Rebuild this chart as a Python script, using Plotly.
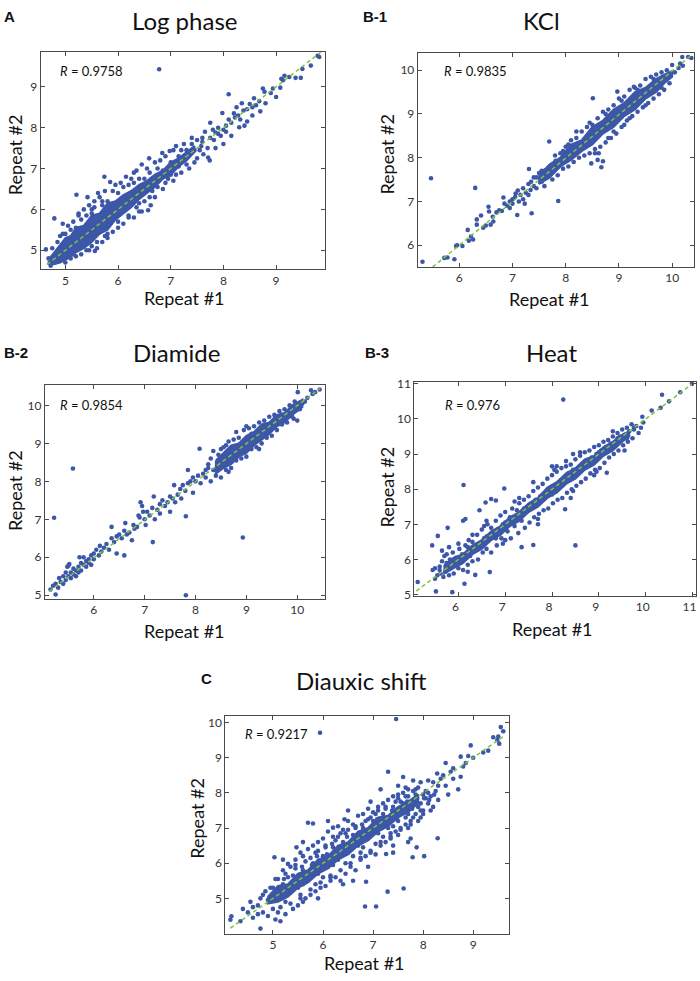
import plotly.graph_objects as go

W, H = 700, 981

# ---------------- DATA ----------------
titles = ["Log phase", "KCl", "Diamide", "Heat", "Diauxic shift"]
panel_tags = ["A", "B-1", "B-2", "B-3", "C"]
r_values = ["0.9758", "0.9835", "0.9854", "0.976", "0.9217"]

x_ticks = [[5, 6, 7, 8, 9], [6, 7, 8, 9, 10], [6, 7, 8, 9, 10], [6, 7, 8, 9, 10, 11], [5, 6, 7, 8, 9]]
y_ticks = [[5, 6, 7, 8, 9], [6, 7, 8, 9, 10], [5, 6, 7, 8, 9, 10], [5, 6, 7, 8, 9, 10, 11], [5, 6, 7, 8, 9, 10]]
x_ranges = [[4.53, 9.92], [5.22, 10.41], [5.04, 10.55], [5.06, 11.07], [4.05, 9.72]]
y_ranges = [[4.53, 9.85], [5.5, 10.39], [4.91, 10.53], [4.96, 11.05], [4.0, 10.18]]

# dashed fit line end points (x, y)
fit_lines = [
    [(4.65, 4.65), (9.85, 9.85)],
    [(5.5, 5.5), (10.38, 10.36)],
    [(5.12, 5.1), (10.45, 10.45)],
    [(5.1, 5.1), (11.05, 11.05)],
    [(4.15, 4.15), (9.6, 9.6)],
]

# dense core outlines (x, y)
log_core = [(4.7, 4.8), (4.85, 5.05), (5.0, 5.3), (5.1, 5.35), (5.2, 5.55), (5.35, 5.6), (5.5, 5.85),
            (5.65, 5.9), (5.8, 6.15), (5.95, 6.2), (6.1, 6.35), (6.25, 6.45), (6.4, 6.6), (6.55, 6.7),
            (6.7, 6.85), (6.85, 6.95), (7.0, 7.15), (7.15, 7.25), (7.3, 7.4), (7.45, 7.55),
            (7.45, 7.4), (7.3, 7.2), (7.15, 7.05), (7.0, 6.85), (6.85, 6.75), (6.7, 6.55), (6.55, 6.4),
            (6.4, 6.25), (6.25, 6.05), (6.1, 5.9), (5.95, 5.75), (5.8, 5.5), (5.65, 5.4), (5.5, 5.2),
            (5.35, 5.05), (5.2, 4.95), (5.05, 4.8), (4.9, 4.7), (4.75, 4.65)]
kcl_core = [(7.5, 7.6), (7.7, 7.85), (7.9, 8.0), (8.1, 8.3), (8.3, 8.4), (8.5, 8.7), (8.7, 8.85),
            (8.9, 9.1), (9.1, 9.25), (9.3, 9.5), (9.5, 9.6), (9.7, 9.8), (9.85, 9.9), (10.0, 9.98),
            (10.0, 9.85), (9.85, 9.7), (9.7, 9.5), (9.5, 9.35), (9.3, 9.1), (9.1, 8.95), (8.9, 8.7),
            (8.7, 8.55), (8.5, 8.3), (8.3, 8.15), (8.1, 7.95), (7.9, 7.8), (7.7, 7.55), (7.5, 7.4)]
diamide_core = [(8.4, 8.55), (8.55, 8.75), (8.7, 8.95), (8.85, 9.0), (9.0, 9.2), (9.15, 9.3), (9.3, 9.5),
                (9.45, 9.55), (9.6, 9.75), (9.75, 9.8), (9.9, 10.0), (10.1, 10.15),
                (10.1, 9.95), (9.9, 9.75), (9.75, 9.55), (9.6, 9.45), (9.45, 9.25), (9.3, 9.1),
                (9.15, 8.95), (9.0, 8.75), (8.85, 8.65), (8.7, 8.45), (8.55, 8.35), (8.4, 8.2)]
heat_core = [(5.7, 5.85), (5.9, 6.05), (6.1, 6.15), (6.3, 6.4), (6.5, 6.55), (6.7, 6.8), (6.9, 6.95),
             (7.1, 7.2), (7.3, 7.35), (7.5, 7.6), (7.7, 7.75), (7.9, 8.05), (8.1, 8.2), (8.3, 8.45),
             (8.5, 8.6), (8.7, 8.85), (8.9, 8.95), (9.1, 9.2), (9.3, 9.35), (9.5, 9.55), (9.65, 9.65),
             (9.65, 9.5), (9.5, 9.35), (9.3, 9.1), (9.1, 8.95), (8.9, 8.7), (8.7, 8.55), (8.5, 8.3),
             (8.3, 8.15), (8.1, 7.9), (7.9, 7.75), (7.7, 7.5), (7.5, 7.35), (7.3, 7.1), (7.1, 6.95),
             (6.9, 6.7), (6.7, 6.55), (6.5, 6.3), (6.3, 6.15), (6.1, 5.9), (5.9, 5.75), (5.7, 5.6)]
diauxic_core = [(4.9, 5.05), (5.1, 5.35), (5.3, 5.4), (5.5, 5.7), (5.7, 5.8), (5.9, 6.1), (6.1, 6.2),
                (6.3, 6.5), (6.5, 6.6), (6.7, 6.9), (6.9, 7.0), (7.1, 7.3), (7.3, 7.35), (7.5, 7.6),
                (7.7, 7.75), (7.9, 7.95), (7.9, 7.7), (7.7, 7.45), (7.5, 7.3), (7.3, 7.05), (7.1, 6.9),
                (6.9, 6.65), (6.7, 6.5), (6.5, 6.25), (6.3, 6.1), (6.1, 5.85), (5.9, 5.7), (5.7, 5.45),
                (5.5, 5.3), (5.3, 5.05), (5.1, 4.9), (4.9, 4.85)]

# individual points (repeat #1, repeat #2)
log_pts = [
    (6.78, 9.43), (9.82, 9.73), (9.79, 9.76), (9.66, 9.52), (9.5, 9.44), (9.47, 9.22), (9.37, 9.22),
    (9.25, 9.24), (9.13, 9.16), (9.16, 9.27), (9.1, 9.2), (8.94, 8.96), (9.08, 8.98), (8.78, 8.88),
    (8.75, 8.96), (8.1, 8.82), (8.58, 8.72), (8.62, 8.55), (8.55, 8.5), (8.5, 8.58), (8.45, 8.45),
    (8.38, 8.42), (8.32, 8.2), (8.3, 8.01), (8.28, 8.3), (8.22, 8.25), (8.2, 8.35), (8.15, 8.12),
    (8.1, 8.2), (8.05, 8.05), (7.98, 8.36), (7.75, 8.12), (8.0, 7.95), (7.95, 7.8), (7.9, 8.0),
    (7.85, 7.88), (7.82, 7.7), (7.8, 7.95), (7.74, 7.2), (7.71, 7.27), (7.7, 7.5), (7.65, 7.9),
    (7.6, 7.75), (7.58, 7.55), (7.55, 7.45), (7.5, 7.7), (7.45, 7.15), (7.4, 7.75), (7.35, 7.4),
    (7.3, 7.1), (7.25, 7.6), (7.2, 7.45), (7.15, 7.05), (7.1, 7.55), (7.05, 7.45), (7.0, 6.85),
    (6.98, 7.43), (6.95, 6.75), (6.9, 7.3), (6.84, 7.38), (6.8, 7.2), (6.75, 6.55), (6.7, 7.15),
    (6.65, 6.45), (6.59, 7.25), (6.55, 7.0), (6.5, 6.2), (6.45, 7.1), (6.4, 6.15), (6.35, 6.95),
    (6.3, 6.9), (6.3, 5.8), (6.25, 6.75), (6.2, 5.85), (6.15, 6.8), (6.1, 5.65), (6.05, 6.65),
    (6.0, 5.55), (5.95, 6.6), (5.9, 5.45), (5.85, 6.67), (5.8, 5.3), (5.74, 6.8), (5.75, 6.45),
    (5.7, 5.2), (5.65, 6.3), (5.62, 6.4), (5.6, 5.05), (5.55, 6.2), (5.56, 4.98), (5.5, 5.1),
    (5.45, 6.1), (5.42, 6.3), (5.4, 5.0), (5.35, 6.0), (5.3, 4.9), (5.25, 5.9), (5.21, 6.36),
    (5.2, 4.85), (5.15, 5.7), (5.1, 4.8), (5.05, 5.6), (5.0, 4.7), (4.95, 5.4), (4.9, 4.8),
    (4.85, 5.2), (4.79, 5.78), (4.8, 4.7), (4.75, 5.05), (4.7, 4.69), (4.68, 4.8), (4.63, 5.02),
    (4.72, 4.62), (6.57, 5.98), (6.62, 6.1), (6.45, 5.95), (6.85, 6.5), (6.9, 6.65), (7.05, 6.7),
    (7.2, 6.9), (7.35, 7.0), (7.5, 7.25), (7.62, 7.35), (7.85, 7.5), (8.0, 7.6), (8.15, 7.8),
    (8.4, 8.05), (8.45, 8.15), (8.55, 8.3), (8.7, 8.4), (8.8, 8.6), (9.0, 8.75), (8.9, 8.85),
    (8.68, 8.65), (8.35, 8.6), (8.25, 8.5), (5.4, 5.85), (5.5, 5.9), (5.7, 6.1), (5.8, 6.2),
    (6.0, 6.4), (6.2, 6.6), (6.4, 6.75), (6.6, 6.9), (6.75, 7.0), (5.2, 5.55), (5.0, 5.4),
    (5.6, 5.5), (6.1, 6.3), (6.7, 6.3), (7.0, 7.15), (7.3, 7.45), (6.3, 6.2), (5.9, 6.0),
    (5.3, 5.35), (4.9, 5.0), (5.15, 5.05), (5.45, 5.25), (5.85, 5.7), (6.35, 6.05), (6.55, 6.5),
    (6.95, 6.9), (7.25, 7.2), (7.45, 7.45), (7.6, 7.65), (7.75, 7.75), (7.9, 7.85), (8.05, 7.9),
    (4.9, 5.35), (5.0, 4.9), (5.1, 5.5), (5.2, 5.0), (5.3, 5.75), (5.4, 5.15), (5.5, 6.0),
    (5.6, 5.2), (5.7, 6.2), (5.8, 5.4), (5.9, 6.45), (6.0, 5.7), (6.1, 6.55), (6.2, 5.8),
    (6.3, 6.65), (6.4, 5.95), (6.5, 6.75), (6.6, 6.3), (4.95, 5.65), (5.25, 5.85), (5.55, 6.05),
    (5.15, 4.9), (5.45, 5.0), (5.75, 5.35), (6.85, 6.95), (7.1, 6.85), (7.4, 7.6), (7.15, 7.3),
]
kcl_pts = [
    (5.47, 7.53), (6.3, 7.31), (5.31, 5.62), (7.69, 8.37), (7.86, 7.01), (7.36, 6.73), (7.09, 6.69),
    (8.48, 7.87), (8.7, 7.92), (8.67, 7.78), (8.51, 9.36), (8.97, 9.51), (9.28, 9.62), (10.19, 10.3),
    (10.36, 10.28), (10.3, 10.3), (10.15, 10.15), (10.12, 10.05), (10.2, 10.1), (10.05, 9.95),
    (10.0, 10.12), (5.72, 5.71), (5.78, 5.72), (5.91, 5.68), (5.94, 5.98), (5.96, 6.0), (6.06, 5.98),
    (6.18, 6.1), (6.26, 6.13), (6.16, 6.35), (6.22, 6.2), (6.33, 6.47), (6.41, 6.68), (6.33, 6.59),
    (6.56, 6.77), (6.59, 6.47), (6.63, 6.65), (6.64, 6.54), (6.55, 6.88), (6.5, 6.45), (6.45, 6.4),
    (6.7, 6.75), (6.75, 6.8), (6.8, 6.78), (6.83, 7.09), (6.85, 6.95), (6.9, 6.9), (6.95, 7.0),
    (6.95, 6.85), (7.0, 7.05), (7.0, 6.95), (7.06, 7.18), (7.05, 7.1), (7.1, 7.25), (7.12, 7.0),
    (7.15, 7.15), (7.2, 7.3), (7.23, 6.95), (7.25, 7.2), (7.3, 7.4), (7.3, 7.15), (7.34, 7.26),
    (7.35, 7.45), (7.4, 7.35), (7.4, 7.55), (7.45, 7.3), (7.31, 7.74), (7.5, 7.65), (7.55, 7.45),
    (7.6, 7.7), (7.6, 7.35), (7.65, 7.55), (7.7, 7.8), (7.75, 7.5), (7.81, 7.93), (7.8, 8.05),
    (7.85, 7.6), (7.9, 8.1), (7.95, 7.75), (8.0, 8.25), (8.05, 7.8), (8.1, 8.4), (8.15, 7.9),
    (8.2, 8.45), (8.25, 8.0), (8.3, 8.6), (8.35, 8.05), (8.4, 8.7), (8.45, 8.1), (8.5, 8.75),
    (8.55, 8.2), (8.6, 8.9), (8.62, 8.1), (8.65, 8.25), (8.7, 9.05), (8.75, 8.35), (8.8, 9.1),
    (8.85, 8.45), (8.9, 9.2), (8.95, 8.55), (9.0, 9.35), (9.05, 8.7), (9.1, 9.4), (9.15, 8.85),
    (9.2, 9.55), (9.25, 8.95), (9.3, 9.6), (9.35, 9.05), (9.4, 9.65), (9.45, 9.15), (9.5, 9.8),
    (9.55, 9.25), (9.6, 9.85), (9.65, 9.35), (9.7, 9.9), (9.75, 9.45), (9.8, 9.95), (9.85, 9.55),
    (9.9, 10.0), (9.95, 9.7), (8.3, 8.35), (8.6, 7.95), (8.05, 8.3), (8.9, 8.6), (9.1, 8.75),
    (8.2, 8.6), (8.45, 8.8), (8.75, 9.0), (9.05, 9.3), (9.35, 9.55), (9.65, 9.8), (8.55, 8.1),
    (8.8, 8.45), (9.2, 8.9), (9.5, 9.2), (9.8, 9.6), (7.55, 7.7), (7.7, 7.6), (7.95, 8.15),
    (7.2, 7.05), (7.45, 7.55),
]
diamide_pts = [
    (5.59, 8.34), (5.22, 7.04), (5.25, 5.02), (7.81, 5.0), (8.93, 6.52), (7.16, 6.4), (7.81, 7.08),
    (8.08, 8.86), (10.27, 10.4), (10.44, 10.42), (10.01, 10.35), (10.3, 10.3), (10.2, 10.2),
    (10.35, 10.35), (9.93, 9.65), (10.0, 9.6), (5.15, 5.15), (5.2, 5.25), (5.25, 5.3), (5.3, 5.2),
    (5.32, 5.45), (5.35, 5.35), (5.4, 5.5), (5.4, 5.3), (5.45, 5.4), (5.45, 5.6), (5.5, 5.5),
    (5.5, 5.78), (5.52, 5.82), (5.48, 5.75), (5.55, 5.45), (5.55, 5.6), (5.6, 5.55), (5.6, 5.7),
    (5.65, 5.65), (5.65, 5.5), (5.7, 5.75), (5.7, 5.6), (5.72, 6.0), (5.75, 5.85), (5.75, 5.65),
    (5.8, 5.8), (5.8, 6.0), (5.85, 5.75), (5.85, 5.9), (5.9, 5.95), (5.9, 5.85), (5.95, 6.05),
    (5.95, 5.8), (6.0, 5.95), (6.0, 6.1), (6.05, 6.2), (6.1, 6.05), (6.12, 6.3), (6.15, 6.15),
    (6.2, 6.25), (6.25, 6.35), (6.3, 6.2), (6.35, 6.5), (6.35, 6.8), (6.4, 6.4), (6.45, 6.55),
    (6.45, 6.1), (6.5, 6.6), (6.55, 6.5), (6.6, 6.05), (6.6, 6.7), (6.62, 6.9), (6.65, 6.6),
    (6.7, 6.65), (6.75, 6.45), (6.78, 6.85), (6.8, 6.75), (6.85, 6.8), (6.88, 7.1), (6.9, 7.05),
    (6.92, 7.45), (6.95, 7.35), (6.97, 7.2), (7.0, 7.0), (7.02, 6.85), (7.05, 7.2), (7.1, 7.1),
    (7.15, 7.3), (7.18, 7.6), (7.2, 7.0), (7.25, 7.25), (7.3, 7.4), (7.3, 7.15), (7.35, 7.5),
    (7.4, 7.35), (7.45, 7.45), (7.5, 7.2), (7.5, 7.6), (7.55, 7.55), (7.58, 7.9), (7.6, 7.45),
    (7.65, 7.65), (7.7, 7.8), (7.72, 7.55), (7.75, 7.9), (7.8, 7.75), (7.85, 8.3), (7.85, 7.95),
    (7.9, 8.0), (7.95, 7.7), (7.95, 8.1), (8.0, 8.0), (8.05, 8.15), (8.1, 7.95), (8.15, 8.2),
    (8.2, 8.3), (8.2, 8.1), (8.25, 8.45), (8.25, 8.35), (8.3, 8.0), (8.3, 8.6), (8.35, 8.3),
    (8.35, 8.8), (8.4, 8.15), (8.45, 8.7), (8.5, 8.1), (8.55, 8.9), (8.6, 8.3), (8.65, 9.05),
    (8.7, 8.35), (8.75, 9.1), (8.8, 8.55), (8.85, 9.15), (8.9, 8.6), (8.95, 9.35), (9.0, 8.65),
    (9.05, 9.4), (9.1, 8.85), (9.15, 9.45), (9.2, 8.9), (9.25, 9.55), (9.3, 9.0), (9.35, 9.6),
    (9.4, 9.15), (9.45, 9.7), (9.5, 9.2), (9.55, 9.75), (9.6, 9.35), (9.65, 9.85), (9.7, 9.5),
    (9.75, 9.9), (9.8, 9.55), (9.85, 10.0), (9.9, 9.7), (9.95, 10.1), (10.05, 9.9), (10.1, 10.05),
    (10.15, 10.1), (8.8, 9.3), (9.0, 9.45), (8.6, 8.95), (9.25, 8.85), (9.5, 9.55), (8.65, 8.25),
    (8.5, 8.85), (9.1, 9.25), (9.4, 9.4), (9.7, 9.75), (8.75, 8.65), (9.05, 8.95), (9.35, 9.25),
]
heat_pts = [
    (8.24, 10.55), (6.11, 8.12), (6.98, 8.02), (8.5, 6.4), (9.17, 8.47), (8.28, 7.43), (7.35, 6.35),
    (7.6, 6.41), (5.77, 6.9), (5.56, 6.67), (5.44, 6.4), (5.13, 5.36), (5.52, 5.09), (5.87, 5.07),
    (6.13, 5.31), (6.67, 5.64), (6.36, 5.56), (10.99, 11.0), (10.74, 10.76), (10.35, 10.69),
    (10.5, 10.5), (10.32, 10.32), (10.13, 10.24), (9.93, 10.06), (6.7, 7.72), (6.8, 7.68),
    (6.58, 7.62), (6.15, 7.15), (6.1, 7.1), (6.45, 7.4), (8.45, 9.0), (8.0, 8.65), (7.6, 8.2),
    (5.45, 5.7), (5.5, 5.75), (5.55, 5.55), (5.6, 5.8), (5.62, 5.6), (5.65, 5.95), (5.68, 5.5),
    (5.7, 6.1), (5.72, 5.65), (5.75, 6.15), (5.8, 5.55), (5.82, 6.0), (5.85, 5.85), (5.88, 6.2),
    (5.9, 5.6), (5.95, 6.05), (6.0, 5.75), (6.02, 6.3), (6.05, 5.9), (6.08, 6.15), (6.1, 5.7),
    (6.15, 6.4), (6.2, 5.85), (6.22, 6.55), (6.25, 6.1), (6.3, 5.95), (6.3, 6.5), (6.35, 6.25),
    (6.4, 6.7), (6.42, 6.0), (6.45, 6.45), (6.5, 6.85), (6.52, 6.2), (6.55, 6.6), (6.6, 6.3),
    (6.62, 7.0), (6.65, 6.55), (6.7, 6.2), (6.7, 6.9), (6.75, 6.7), (6.8, 7.1), (6.82, 6.4),
    (6.85, 6.85), (6.9, 7.25), (6.92, 6.6), (6.95, 7.0), (7.0, 6.55), (7.0, 7.35), (7.05, 6.8),
    (7.1, 7.2), (7.12, 6.6), (7.15, 7.45), (7.2, 6.95), (7.25, 7.4), (7.28, 6.75), (7.3, 7.6),
    (7.35, 7.1), (7.4, 7.7), (7.42, 6.9), (7.45, 7.35), (7.5, 7.8), (7.52, 7.05), (7.55, 7.55),
    (7.6, 7.95), (7.62, 7.2), (7.65, 7.7), (7.7, 8.05), (7.72, 7.3), (7.75, 7.8), (7.8, 8.15),
    (7.82, 7.4), (7.85, 7.9), (7.9, 8.3), (7.92, 7.45), (7.95, 8.0), (8.0, 8.4), (8.02, 7.6),
    (8.05, 8.1), (8.1, 8.5), (8.12, 7.7), (8.15, 8.2), (8.2, 8.6), (8.22, 7.75), (8.25, 8.3),
    (8.3, 8.65), (8.32, 7.9), (8.35, 8.45), (8.4, 8.7), (8.42, 8.0), (8.45, 8.55), (8.5, 8.85),
    (8.52, 8.1), (8.55, 8.6), (8.6, 8.95), (8.62, 8.2), (8.65, 8.7), (8.7, 9.05), (8.72, 8.3),
    (8.75, 8.8), (8.8, 9.1), (8.82, 8.45), (8.85, 8.9), (8.9, 9.2), (8.92, 8.55), (8.95, 9.0),
    (9.0, 9.25), (9.02, 8.6), (9.05, 9.1), (9.1, 9.35), (9.12, 8.75), (9.15, 9.2), (9.2, 9.4),
    (9.22, 8.9), (9.25, 9.3), (9.3, 9.5), (9.32, 9.0), (9.35, 9.35), (9.4, 9.6), (9.42, 9.1),
    (9.45, 9.5), (9.5, 9.7), (9.52, 9.25), (9.55, 9.55), (9.6, 9.75), (9.62, 9.35), (9.65, 9.65),
    (9.7, 9.85), (9.72, 9.45), (9.75, 9.7), (9.8, 9.8), (9.85, 9.6), (9.9, 9.75), (9.95, 9.9),
    (8.1, 8.65), (8.3, 8.8), (7.2, 7.65), (6.6, 7.1), (6.3, 6.7), (6.0, 6.45), (7.7, 7.15),
    (8.4, 7.75), (8.9, 8.4), (5.6, 5.7), (5.75, 5.9), (6.0, 6.0), (6.2, 6.35), (6.4, 6.35),
    (6.6, 6.65), (6.8, 6.6), (7.0, 7.05), (7.2, 7.1), (7.4, 7.45), (7.6, 7.5), (7.8, 7.85),
    (8.0, 7.85), (8.2, 8.25), (8.4, 8.3), (8.6, 8.65), (8.8, 8.7), (9.0, 9.05), (9.2, 9.1),
    (9.4, 9.45), (9.6, 9.45), (9.75, 9.75), (5.5, 5.45), (5.65, 6.25), (5.8, 6.35), (6.2, 5.65),
    (6.55, 6.95), (6.95, 6.45), (7.3, 7.75), (7.7, 7.0), (8.05, 8.55), (8.45, 7.95), (8.6, 9.05),
    (8.95, 8.5), (9.3, 9.65), (9.55, 9.1),
]
diauxic_pts = [
    (7.46, 10.1), (5.94, 9.71), (9.55, 9.87), (9.6, 9.75), (9.4, 9.58), (9.5, 9.6), (9.52, 9.4),
    (9.48, 9.5), (9.3, 9.2), (9.2, 9.15), (8.95, 9.35), (8.75, 9.03), (8.9, 9.05), (9.0, 9.0),
    (8.85, 8.85), (8.75, 8.46), (8.8, 8.75), (8.6, 8.7), (8.55, 8.6), (8.45, 8.85), (8.4, 8.5),
    (8.35, 8.4), (8.3, 8.2), (8.28, 8.55), (8.2, 8.3), (8.1, 8.35), (8.15, 7.9), (8.25, 8.05),
    (7.95, 8.3), (7.8, 8.35), (7.6, 8.45), (7.65, 8.15), (7.3, 8.6), (7.15, 8.1), (8.29, 6.71),
    (8.02, 6.2), (7.79, 6.17), (7.87, 6.45), (7.61, 5.28), (7.06, 4.77), (6.84, 4.77), (7.29, 5.19),
    (6.86, 5.47), (7.26, 6.26), (7.4, 6.5), (7.5, 6.8), (7.7, 7.0), (7.75, 6.7), (8.0, 7.5),
    (8.2, 7.6), (7.9, 7.2), (4.75, 4.14), (4.15, 4.39), (4.17, 4.49), (4.35, 4.35), (4.4, 4.7),
    (4.5, 4.6), (4.55, 4.9), (4.6, 4.45), (4.7, 4.8), (4.75, 5.0), (4.8, 4.6), (4.85, 5.2),
    (4.9, 4.5), (4.95, 5.3), (5.0, 4.7), (5.03, 6.17), (5.3, 5.98), (5.47, 6.45), (5.7, 7.15),
    (5.8, 7.13), (6.2, 7.01), (6.43, 7.25), (5.05, 4.4), (5.15, 4.35), (5.2, 5.8), (5.25, 4.55),
    (5.35, 5.9), (5.4, 4.7), (5.45, 6.1), (5.5, 4.8), (5.55, 6.3), (5.6, 4.9), (5.6, 6.2),
    (5.65, 5.0), (5.7, 6.4), (5.75, 5.1), (5.8, 6.5), (5.85, 5.2), (5.9, 6.6), (5.95, 5.3),
    (6.0, 6.7), (6.05, 5.35), (6.1, 6.9), (6.15, 5.5), (6.2, 6.75), (6.25, 5.6), (6.3, 7.05),
    (6.35, 5.5), (6.4, 6.95), (6.45, 5.7), (6.5, 7.2), (6.55, 5.9), (6.6, 7.1), (6.65, 5.8),
    (6.7, 7.35), (6.75, 6.1), (6.8, 7.4), (6.85, 6.2), (6.9, 7.55), (6.95, 6.3), (7.0, 7.45),
    (7.05, 6.25), (7.1, 7.6), (7.15, 6.5), (7.2, 7.7), (7.25, 6.6), (7.3, 7.8), (7.35, 6.7),
    (7.4, 7.9), (7.45, 6.9), (7.5, 7.95), (7.55, 7.0), (7.6, 8.0), (7.65, 7.1), (7.7, 8.1),
    (7.75, 7.2), (7.8, 8.05), (7.85, 7.4), (7.9, 8.15), (7.95, 7.5), (8.05, 7.85), (8.1, 7.7),
    (5.0, 5.3), (5.1, 5.0), (5.2, 5.4), (5.3, 5.2), (5.4, 5.65), (5.5, 5.3), (5.6, 5.8),
    (5.7, 5.5), (5.8, 6.0), (5.9, 5.7), (6.0, 6.2), (6.1, 5.9), (6.2, 6.45), (6.3, 6.1),
    (6.4, 6.6), (6.5, 6.3), (6.6, 6.8), (6.7, 6.5), (6.8, 7.0), (6.9, 6.7), (7.0, 7.2),
    (7.1, 6.85), (7.2, 7.4), (7.3, 7.0), (7.4, 7.6), (7.5, 7.2), (7.6, 7.7), (7.7, 7.4),
    (7.8, 7.8), (7.9, 7.6), (8.0, 7.95), (4.9, 4.95), (5.1, 5.55), (5.25, 4.9), (5.45, 5.85),
    (5.55, 5.1), (5.75, 6.15), (5.85, 5.4), (6.05, 6.5), (6.15, 5.6), (6.35, 6.85), (6.45, 6.0),
    (6.65, 7.05), (6.75, 6.3), (6.95, 7.3), (7.05, 6.55), (7.25, 7.55), (7.35, 6.85), (7.55, 7.75),
    (7.65, 7.3), (7.85, 7.95), (7.95, 7.7), (5.2, 6.1), (5.6, 6.6), (6.1, 7.2), (6.5, 7.5),
    (6.95, 7.75), (7.5, 8.2), (5.9, 5.0), (6.4, 5.4), (6.9, 5.9), (7.4, 6.3), (7.7, 6.6), (6.6, 5.5),
    (5.05, 5.55), (5.15, 4.75), (5.25, 5.7), (5.35, 4.85), (5.45, 5.95), (5.55, 5.0), (5.65, 6.05),
    (5.75, 5.25), (5.85, 6.3), (5.95, 5.45), (6.05, 6.45), (6.15, 5.65), (6.25, 6.65), (6.35, 5.8),
    (6.45, 6.85), (6.55, 6.0), (6.65, 7.0), (6.75, 6.15), (6.85, 7.2), (6.95, 6.35), (7.05, 7.4),
    (7.15, 6.6), (7.25, 7.6), (7.35, 6.75), (7.45, 7.75), (7.55, 6.95), (7.65, 7.9), (7.75, 7.1),
    (7.85, 8.1), (7.95, 7.3), (8.05, 8.05), (8.15, 7.5), (5.0, 4.95), (5.3, 5.6), (5.6, 5.4),
    (5.9, 6.35), (6.2, 5.95), (6.5, 6.95), (6.8, 6.45), (7.1, 7.5), (7.4, 7.05), (7.7, 7.9),
    (8.0, 7.4), (4.6, 4.75), (4.7, 4.55), (4.8, 5.1), (5.1, 4.6), (6.0, 5.6), (6.3, 6.75),
    (6.6, 6.2), (6.9, 7.25), (7.2, 6.75), (7.5, 7.85), (7.8, 7.3), (8.1, 8.0), (8.3, 7.8),
    (8.45, 8.2), (8.5, 7.95), (8.6, 8.4), (8.7, 8.1),
    (5.12, 5.2), (5.22, 5.55), (5.38, 5.35), (5.48, 5.6), (5.58, 5.9), (5.68, 5.65), (5.78, 5.95),
    (5.88, 6.2), (5.98, 5.95), (6.08, 6.25), (6.18, 6.55), (6.28, 6.35), (6.38, 6.45), (6.48, 6.75),
    (6.58, 6.45), (6.68, 6.75), (6.78, 7.1), (6.88, 6.85), (6.98, 7.0), (7.08, 7.25), (7.18, 7.05),
    (7.28, 7.25), (7.38, 7.5), (7.48, 7.3), (7.58, 7.55), (7.68, 7.75), (7.78, 7.55), (7.88, 7.85),
    (5.32, 5.3), (5.62, 5.6), (5.92, 5.85), (6.22, 6.15), (6.52, 6.4), (6.82, 6.8), (7.12, 7.1),
    (7.42, 7.35), (7.72, 7.65), (8.02, 7.85), (8.12, 7.8), (8.22, 7.95),
]

all_pts = [log_pts, kcl_pts, diamide_pts, heat_pts, diauxic_pts]
all_cores = [log_core, kcl_core, diamide_core, heat_core, diauxic_core]

# ---------------- LAYOUT (pixel boxes: left, top, right, bottom) ----------------
boxes = [(40.7, 46.7, 325, 266.7), (418.3, 47.7, 695, 264.3), (45, 384, 325.7, 600),
         (415, 380.7, 696.7, 597.3), (225.7, 719, 510, 939)]
title_pos = [(185, 15), (542, 15), (177, 351), (552, 351), (362, 683)]
tag_pos = [(2, 11), (362, 11), (2, 351), (364, 351), (199, 681)]
xlab_pos = [(185, 296), (550, 297), (185, 633), (553, 631), (365, 969)]
ylab_pos = [(15, 150), (388, 150), (15, 490), (388, 487), (197, 822)]
r_pos = [(58, 66), (443, 66), (58, 404), (444, 404), (243, 737)]
xlabel_shift = [0, 0, 0, -3, 0]

BLUE = "#3d57a8"
GREEN = "#7fc242"
FONT = "Lato"


def px(x):
    return x / W


def py(y):
    return 1 - y / H


fig = go.Figure()
annotations = []
for i in range(5):
    n = "" if i == 0 else str(i + 1)
    xa, ya = "x" + n, "y" + n
    cx = [p[0] for p in all_cores[i]] + [all_cores[i][0][0]]
    cy = [p[1] for p in all_cores[i]] + [all_cores[i][0][1]]
    fig.add_trace(go.Scatter(x=cx, y=cy, mode="lines", fill="toself", fillcolor=BLUE,
                             line=dict(color=BLUE, width=2), xaxis=xa, yaxis=ya,
                             hoverinfo="skip", showlegend=False))
    fig.add_trace(go.Scatter(x=[p[0] for p in all_pts[i]], y=[p[1] for p in all_pts[i]],
                             mode="markers", marker=dict(color=BLUE, size=4.6),
                             xaxis=xa, yaxis=ya, showlegend=False))
    fl = fit_lines[i]
    fig.add_trace(go.Scatter(x=[fl[0][0], fl[1][0]], y=[fl[0][1], fl[1][1]], mode="lines",
                             line=dict(color=GREEN, width=1.5, dash="4px,3px"),
                             xaxis=xa, yaxis=ya, showlegend=False))
    l, t, r, b = boxes[i]
    axis_common = dict(showline=True, linecolor="#4a4a4a", linewidth=1, mirror="ticks",
                       ticks="inside", ticklen=4, tickcolor="#4a4a4a", showgrid=False,
                       zeroline=False, ticklabeloverflow="allow",
                       tickfont=dict(family=FONT, size=12, color="#333"))
    fig.update_layout(**{
        "xaxis" + n: dict(domain=[px(l), px(r)], range=x_ranges[i], tickvals=x_ticks[i],
                          anchor=ya, ticklabelshift=xlabel_shift[i], **axis_common),
        "yaxis" + n: dict(domain=[py(b), py(t)], range=y_ranges[i], tickvals=y_ticks[i],
                          anchor=xa, **axis_common),
    })
    annotations += [
        dict(text=titles[i], x=px(title_pos[i][0]), y=py(title_pos[i][1]), xref="paper", yref="paper",
             showarrow=False, xanchor="center", yanchor="middle",
             font=dict(family=FONT, size=24, color="#111")),
        dict(text="<b>" + panel_tags[i] + "</b>", x=px(tag_pos[i][0]), y=py(tag_pos[i][1]),
             xref="paper", yref="paper", showarrow=False, xanchor="left", yanchor="middle",
             font=dict(family="Liberation Sans", size=15, color="#111")),
        dict(text="Repeat #1", x=px(xlab_pos[i][0]), y=py(xlab_pos[i][1]), xref="paper", yref="paper",
             showarrow=False, xanchor="center", yanchor="middle",
             font=dict(family=FONT, size=18, color="#111")),
        dict(text="Repeat #2", x=px(ylab_pos[i][0]), y=py(ylab_pos[i][1]), xref="paper", yref="paper",
             showarrow=False, xanchor="center", yanchor="middle", textangle=-90,
             font=dict(family=FONT, size=18, color="#111")),
        dict(text="<i>R</i> = " + r_values[i], x=px(r_pos[i][0]), y=py(r_pos[i][1]),
             xref="paper", yref="paper", showarrow=False, xanchor="left", yanchor="middle",
             font=dict(family=FONT, size=13, color="#111")),
    ]

fig.update_layout(width=W, height=H, margin=dict(l=0, r=0, t=0, b=0),
                  paper_bgcolor="white", plot_bgcolor="white", annotations=annotations,
                  showlegend=False)
fig.write_html("out.html", config={"displayModeBar": False},
               post_script="document.body.style.margin='0';"
                           "document.body.style.overflow='hidden';"
                           "document.documentElement.style.overflow='hidden';")
